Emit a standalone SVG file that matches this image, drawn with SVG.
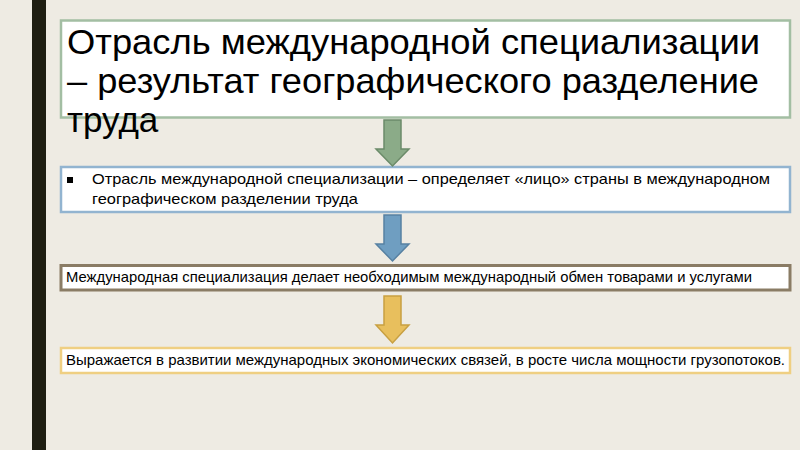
<svg xmlns="http://www.w3.org/2000/svg" width="800" height="450" viewBox="0 0 800 450">
<style>
.t{font-family:"Liberation Sans",Arial,sans-serif;fill:#000}
.big{font-size:35px}
.sm{font-size:14.5px}
.box{fill:#fff}
</style>
<rect x="0" y="0" width="800" height="450" fill="#EEEBE3"/>
<rect x="32" y="0" width="14" height="450" fill="#1E1E12"/>
<g id="node1">
<rect class="box" x="61" y="20.5" width="729" height="97" stroke="#A3BEA3" stroke-width="2.5"/>
<text class="t big" x="67" y="54" textLength="693" lengthAdjust="spacingAndGlyphs">Отрасль международной специализации</text>
<text class="t big" x="67" y="93" textLength="692" lengthAdjust="spacingAndGlyphs">– результат географического разделение</text>
<text class="t big" x="67" y="132">труда</text>
</g>
<g id="node2">
<rect class="box" x="61" y="167" width="729" height="45" stroke="#92B4D0" stroke-width="2.5"/>
<rect x="67" y="177" width="6" height="6" fill="#000"/>
<text class="t sm" x="92" y="184" textLength="678" lengthAdjust="spacingAndGlyphs">Отрасль международной специализации – определяет «лицо» страны в международном</text>
<text class="t sm" x="92" y="204" textLength="266" lengthAdjust="spacingAndGlyphs">географическом разделении труда</text>
</g>
<g id="node3">
<rect class="box" x="61" y="265.5" width="729" height="24.5" stroke="#8A7C65" stroke-width="3"/>
<text class="t sm" x="66" y="282" textLength="686" lengthAdjust="spacingAndGlyphs">Международная специализация делает необходимым международный обмен товарами и услугами</text>
</g>
<g id="node4">
<rect class="box" x="61" y="348" width="729" height="25" stroke="#EFCF82" stroke-width="2.5"/>
<text class="t sm" x="66" y="365" textLength="719" lengthAdjust="spacingAndGlyphs">Выражается в развитии международных экономических связей, в росте числа мощности грузопотоков.</text>
</g>
<g id="connectors" stroke-width="1.5" stroke-linejoin="miter">
<polygon points="384,120 401,120 401,149 409,149 392.5,166 376,149 384,149" fill="#8BAB88" stroke="#6B8B69"/>
<polygon points="384,215 401,215 401,244 409,244 392.5,261 376,244 384,244" fill="#6F9EC1" stroke="#5781A2"/>
<polygon points="384,296 401,296 401,325 409,325 392.5,343 376,325 384,325" fill="#E8BF5D" stroke="#C8A042"/>
</g>
</svg>
